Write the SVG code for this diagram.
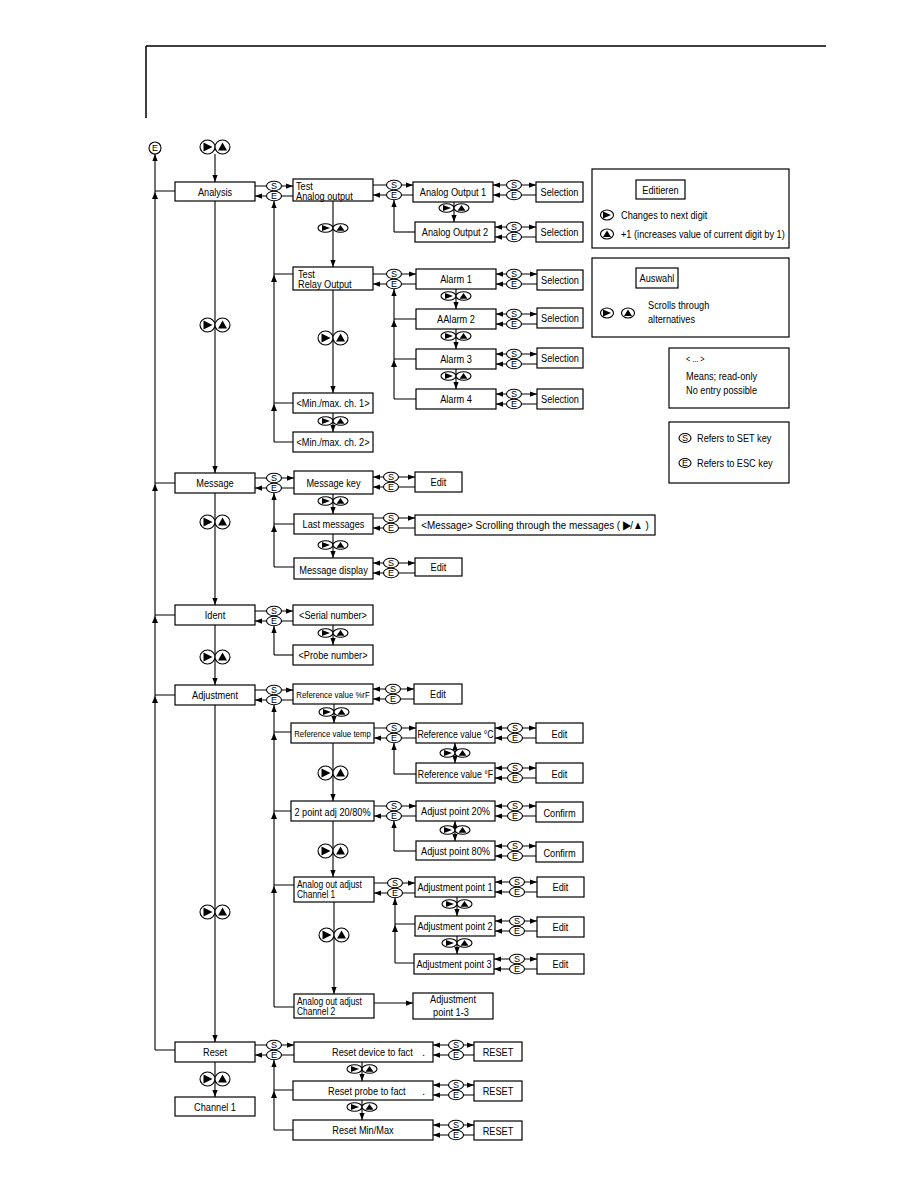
<svg xmlns="http://www.w3.org/2000/svg" xmlns:xlink="http://www.w3.org/1999/xlink" width="918" height="1188" viewBox="0 0 918 1188">
<style>
.bx{fill:#fff;stroke:#000;stroke-width:1.2}
.t{font-family:"Liberation Sans",Arial,sans-serif;font-size:11.5px;fill:#000}
.s{font-size:9.8px}
.m{font-size:10.5px}
.c{text-anchor:middle}
.k{fill:#fff;stroke:#000;stroke-width:1.1}
.kt{font-family:"Liberation Sans",Arial,sans-serif;font-size:9px;text-anchor:middle;fill:#000}
#conn path{fill:none;stroke:#000;stroke-width:1.1}
#conn .a{marker-end:url(#ah)}
#conn .b{marker-start:url(#ah);marker-end:url(#ah)}
</style>
<defs>
<marker id="ah" viewBox="0 0 8 6" refX="8" refY="3" markerWidth="7" markerHeight="5.5" markerUnits="userSpaceOnUse" orient="auto-start-reverse"><path d="M0,0L8,3L0,6z" fill="#000"/></marker>
<path id="up" d="M0,0l-3,7h6z" fill="#000"/>
<g id="kS"><ellipse rx="7.5" ry="4.8" class="k"/><text class="kt" y="3.2">S</text></g>
<g id="kE"><ellipse rx="7.5" ry="4.8" class="k"/><text class="kt" y="3.2">E</text></g>
<g id="pL"><ellipse cx="-7.5" rx="7.5" ry="7" class="k"/><ellipse cx="7.5" rx="7.5" ry="7" class="k"/><path d="M-11.5,-4.5L-2.5,0L-11.5,4.5z"/><path d="M7.5,-4.5L12,3.5H3z"/></g>
<g id="pS"><ellipse cx="-7.5" rx="7.5" ry="4.3" class="k"/><ellipse cx="7.5" rx="7.5" ry="4.3" class="k"/><path d="M-11,-3L-3,0L-11,3z"/><path d="M7.5,-3L11.5,2.8H3.5z"/></g>
</defs>
<rect width="918" height="1188" fill="#fff"/>
<g id="header"><path d="M146,46H826M146,46V118" fill="none" stroke="#000" stroke-width="1.5"/></g>

<g id="conn">
<path class="a" d="M155,1050V154"/>
<path d="M155,191H175M155,483H175M155,615H175M155,695H175M155,1050H175"/>
<path class="a" d="M215,154V182"/>
<path class="a" d="M215,201V473"/>
<path class="a" d="M215,493V605"/>
<path class="a" d="M215,625V685"/>
<path class="a" d="M215,705V1042"/>
<path class="a" d="M215,1062V1097"/>
<path class="a" d="M255,186H266.5M281.5,186H293"/>
<path class="a" d="M293,196H281.5M266.5,196H255"/>
<path class="a" d="M274,442V201"/>
<path d="M274,274H293M274,403H293M274,442H293"/>
<path class="a" d="M373,185H386.5M401.5,185H413"/>
<path class="a" d="M413,195H401.5M386.5,195H373"/>
<path class="a" d="M394,232V200"/>
<path d="M394,232H415"/>
<path class="b" d="M493,185H506.5M521.5,185H536"/>
<path class="a" d="M536,195H521.5M506.5,195H493"/>
<path class="b" d="M495,227H506.5M521.5,227H536"/>
<path class="a" d="M536,237H521.5M506.5,237H495"/>
<path class="a" d="M373,274H386.5M401.5,274H416"/>
<path class="a" d="M416,284H401.5M386.5,284H373"/>
<path class="a" d="M394,399V289"/>
<path d="M394,319H416M394,359H416M394,399H416"/>
<path class="b" d="M496,274H506.5M521.5,274H537"/>
<path class="a" d="M537,284H521.5M506.5,284H496"/>
<path class="b" d="M496,314H506.5M521.5,314H537"/>
<path class="a" d="M537,324H521.5M506.5,324H496"/>
<path class="b" d="M496,354H506.5M521.5,354H537"/>
<path class="a" d="M537,364H521.5M506.5,364H496"/>
<path class="b" d="M496,394H506.5M521.5,394H537"/>
<path class="a" d="M537,404H521.5M506.5,404H496"/>
<path class="a" d="M255,478H266.5M281.5,478H294"/>
<path class="a" d="M294,488H281.5M266.5,488H255"/>
<path class="a" d="M274,567V493"/>
<path d="M274,524H294M274,567H294"/>
<path class="b" d="M373,477H383.5M398.5,477H415"/>
<path class="a" d="M415,487H398.5M383.5,487H373"/>
<path class="a" d="M373,518H383.5M398.5,518H415"/>
<path class="a" d="M415,528H398.5M383.5,528H373"/>
<path class="b" d="M373,563H383.5M398.5,563H415"/>
<path class="a" d="M415,573H398.5M383.5,573H373"/>
<path class="a" d="M255,611H266.5M281.5,611H293"/>
<path class="a" d="M293,621H281.5M266.5,621H255"/>
<path class="a" d="M274,655V626"/>
<path d="M274,655H293"/>
<path class="a" d="M255,690H266.5M281.5,690H293"/>
<path class="a" d="M293,700H281.5M266.5,700H255"/>
<path class="a" d="M274,1007V705"/>
<path d="M274,732H291M274,811H291M274,885H294M274,1007H294"/>
<path class="b" d="M373,689H385.5M400.5,689H414"/>
<path class="a" d="M414,699H400.5M385.5,699H373"/>
<path class="a" d="M374,728H386.5M401.5,728H416"/>
<path class="a" d="M416,738H401.5M386.5,738H374"/>
<path class="a" d="M394,774V743"/>
<path d="M394,774H416"/>
<path class="b" d="M495,728H507.5M522.5,728H536"/>
<path class="a" d="M536,738H522.5M507.5,738H495"/>
<path class="b" d="M495,768H507.5M522.5,768H536"/>
<path class="a" d="M536,778H522.5M507.5,778H495"/>
<path class="a" d="M374,806H386.5M401.5,806H416"/>
<path class="a" d="M416,816H401.5M386.5,816H374"/>
<path class="a" d="M394,851V821"/>
<path d="M394,851H416"/>
<path class="b" d="M495,806H507.5M522.5,806H536"/>
<path class="a" d="M536,816H522.5M507.5,816H495"/>
<path class="b" d="M495,846H507.5M522.5,846H536"/>
<path class="a" d="M536,856H522.5M507.5,856H495"/>
<path class="a" d="M374,883H387.5M402.5,883H415"/>
<path class="a" d="M415,893H402.5M387.5,893H374"/>
<path class="a" d="M395,963V898"/>
<path d="M395,924H415M395,963H414"/>
<path class="b" d="M495,882H509.5M524.5,882H537"/>
<path class="a" d="M537,892H524.5M509.5,892H495"/>
<path class="b" d="M495,921H509.5M524.5,921H537"/>
<path class="a" d="M537,931H524.5M509.5,931H495"/>
<path class="b" d="M494,959H509.5M524.5,959H537"/>
<path class="a" d="M537,969H524.5M509.5,969H494"/>
<path class="a" d="M374,1003H413"/>
<path class="a" d="M255,1045H266.5M281.5,1045H294"/>
<path class="a" d="M294,1055H281.5M266.5,1055H255"/>
<path class="a" d="M274,1130V1060"/>
<path d="M274,1090H293M274,1130H293"/>
<path class="b" d="M433,1045H448.5M463.5,1045H474"/>
<path class="a" d="M474,1055H463.5M448.5,1055H433"/>
<path class="b" d="M433,1085H448.5M463.5,1085H474"/>
<path class="a" d="M474,1095H463.5M448.5,1095H433"/>
<path class="b" d="M433,1125H448.5M463.5,1125H474"/>
<path class="a" d="M474,1135H463.5M448.5,1135H433"/>
<path class="a" d="M333,201V267"/>
<path class="a" d="M333,290V393"/>
<path class="a" d="M333,413V432"/>
<path class="a" d="M454,202V222"/>
<path class="a" d="M456,289V309"/>
<path class="a" d="M456,329V349"/>
<path class="a" d="M456,369V389"/>
<path class="a" d="M333,494V514"/>
<path class="a" d="M333,534V558"/>
<path class="a" d="M333,625V645"/>
<path class="a" d="M334,704V723"/>
<path class="b" d="M455,743V763"/>
<path class="a" d="M333,743V801"/>
<path class="b" d="M455,821V841"/>
<path class="a" d="M333,821V877"/>
<path class="a" d="M457,897V916"/>
<path class="a" d="M457,936V954"/>
<path class="a" d="M334,902V994"/>
<path class="a" d="M362,1062V1081"/>
<path class="a" d="M362,1100V1120"/>
</g>

<g id="junction-arrows">
<use href="#up" x="155" y="192"/><use href="#up" x="155" y="484"/><use href="#up" x="155" y="616"/><use href="#up" x="155" y="696"/>
<use href="#up" x="274" y="275"/><use href="#up" x="274" y="404"/>
<use href="#up" x="394" y="320"/><use href="#up" x="394" y="360"/>
<use href="#up" x="274" y="525"/>
<use href="#up" x="274" y="733"/><use href="#up" x="274" y="812"/><use href="#up" x="274" y="886"/>
<use href="#up" x="395" y="925"/>
<use href="#up" x="274" y="1091"/>
</g>

<g id="keys">
<circle cx="155" cy="148" r="6" class="k"/><text class="kt" x="155" y="151.2">E</text>
<use href="#pL" x="215" y="147"/>
<use href="#pL" x="215" y="325"/><use href="#pL" x="215" y="522"/><use href="#pL" x="215" y="657"/><use href="#pL" x="215" y="912"/><use href="#pL" x="215" y="1079"/>
<use href="#pL" x="333" y="338"/><use href="#pL" x="333" y="773"/><use href="#pL" x="333" y="851"/><use href="#pL" x="334" y="935"/>
<use href="#pS" x="333" y="228"/><use href="#pS" x="333" y="421"/><use href="#pS" x="454" y="208"/>
<use href="#pS" x="456" y="296"/><use href="#pS" x="456" y="336"/><use href="#pS" x="456" y="376"/>
<use href="#pS" x="333" y="501"/><use href="#pS" x="333" y="545"/><use href="#pS" x="333" y="633"/>
<use href="#pS" x="334" y="712"/><use href="#pS" x="455" y="753"/><use href="#pS" x="455" y="830"/>
<use href="#pS" x="457" y="904"/><use href="#pS" x="457" y="943"/>
<use href="#pS" x="362" y="1069"/><use href="#pS" x="362" y="1107"/>
<use href="#kS" x="274" y="186"/><use href="#kE" x="274" y="196"/>
<use href="#kS" x="394" y="185"/><use href="#kE" x="394" y="195"/>
<use href="#kS" x="514" y="185"/><use href="#kE" x="514" y="195"/>
<use href="#kS" x="514" y="227"/><use href="#kE" x="514" y="237"/>
<use href="#kS" x="394" y="274"/><use href="#kE" x="394" y="284"/>
<use href="#kS" x="514" y="274"/><use href="#kE" x="514" y="284"/>
<use href="#kS" x="514" y="314"/><use href="#kE" x="514" y="324"/>
<use href="#kS" x="514" y="354"/><use href="#kE" x="514" y="364"/>
<use href="#kS" x="514" y="394"/><use href="#kE" x="514" y="404"/>
<use href="#kS" x="274" y="478"/><use href="#kE" x="274" y="488"/>
<use href="#kS" x="391" y="477"/><use href="#kE" x="391" y="487"/>
<use href="#kS" x="391" y="518"/><use href="#kE" x="391" y="528"/>
<use href="#kS" x="391" y="563"/><use href="#kE" x="391" y="573"/>
<use href="#kS" x="274" y="611"/><use href="#kE" x="274" y="621"/>
<use href="#kS" x="274" y="690"/><use href="#kE" x="274" y="700"/>
<use href="#kS" x="393" y="689"/><use href="#kE" x="393" y="699"/>
<use href="#kS" x="394" y="728"/><use href="#kE" x="394" y="738"/>
<use href="#kS" x="515" y="728"/><use href="#kE" x="515" y="738"/>
<use href="#kS" x="515" y="768"/><use href="#kE" x="515" y="778"/>
<use href="#kS" x="394" y="806"/><use href="#kE" x="394" y="816"/>
<use href="#kS" x="515" y="806"/><use href="#kE" x="515" y="816"/>
<use href="#kS" x="515" y="846"/><use href="#kE" x="515" y="856"/>
<use href="#kS" x="395" y="883"/><use href="#kE" x="395" y="893"/>
<use href="#kS" x="517" y="882"/><use href="#kE" x="517" y="892"/>
<use href="#kS" x="517" y="921"/><use href="#kE" x="517" y="931"/>
<use href="#kS" x="517" y="959"/><use href="#kE" x="517" y="969"/>
<use href="#kS" x="274" y="1045"/><use href="#kE" x="274" y="1055"/>
<use href="#kS" x="456" y="1045"/><use href="#kE" x="456" y="1055"/>
<use href="#kS" x="456" y="1085"/><use href="#kE" x="456" y="1095"/>
<use href="#kS" x="456" y="1125"/><use href="#kE" x="456" y="1135"/>
</g>

<g id="n_analysis"><rect class="bx" x="175" y="182" width="80" height="19"/><text class="t c" transform="translate(215 195.5) scale(.8 1)">Analysis</text></g>
<g id="n_message"><rect class="bx" x="175" y="473" width="80" height="20"/><text class="t c" transform="translate(215 487) scale(.8 1)">Message</text></g>
<g id="n_ident"><rect class="bx" x="175" y="605" width="80" height="20"/><text class="t c" transform="translate(215 619) scale(.8 1)">Ident</text></g>
<g id="n_adjustment"><rect class="bx" x="175" y="685" width="80" height="20"/><text class="t c" transform="translate(215 699) scale(.8 1)">Adjustment</text></g>
<g id="n_reset"><rect class="bx" x="175" y="1042" width="80" height="20"/><text class="t c" transform="translate(215 1056) scale(.8 1)">Reset</text></g>
<g id="n_channel1"><rect class="bx" x="175" y="1097" width="80" height="19"/><text class="t c" transform="translate(215 1111) scale(.8 1)">Channel 1</text></g>

<g id="n_testao"><rect class="bx" x="293" y="179" width="80" height="22"/><text class="t" transform="translate(296 189.5) scale(.8 1)">Test</text><text class="t" transform="translate(296 199.5) scale(.8 1)">Analog output</text></g>
<g id="n_testrelay"><rect class="bx" x="293" y="267" width="80" height="23"/><text class="t" transform="translate(298 278) scale(.8 1)">Test</text><text class="t" transform="translate(298 288) scale(.8 1)">Relay Output</text></g>
<g id="n_minmax1"><rect class="bx" x="293" y="393" width="80" height="20"/><text class="t c" transform="translate(333 407) scale(.8 1)">&lt;Min./max. ch. 1&gt;</text></g>
<g id="n_minmax2"><rect class="bx" x="293" y="432" width="80" height="20"/><text class="t c" transform="translate(333 446) scale(.8 1)">&lt;Min./max. ch. 2&gt;</text></g>
<g id="n_ao1"><rect class="bx" x="413" y="182" width="80" height="20"/><text class="t c" transform="translate(453 196) scale(.8 1)">Analog Output 1</text></g>
<g id="n_ao2"><rect class="bx" x="415" y="222" width="80" height="20"/><text class="t c" transform="translate(455 236) scale(.8 1)">Analog Output 2</text></g>
<g id="n_sel1"><rect class="bx" x="536" y="182" width="47" height="20"/><text class="t c" transform="translate(559.5 196) scale(.8 1)">Selection</text></g>
<g id="n_sel2"><rect class="bx" x="536" y="222" width="47" height="20"/><text class="t c" transform="translate(559.5 236) scale(.8 1)">Selection</text></g>
<g id="n_alarm1"><rect class="bx" x="416" y="269" width="80" height="20"/><text class="t c" transform="translate(456 283) scale(.8 1)">Alarm 1</text></g>
<g id="n_alarm2"><rect class="bx" x="416" y="309" width="80" height="20"/><text class="t c" transform="translate(456 323) scale(.8 1)">AAlarm 2</text></g>
<g id="n_alarm3"><rect class="bx" x="416" y="349" width="80" height="20"/><text class="t c" transform="translate(456 363) scale(.8 1)">Alarm 3</text></g>
<g id="n_alarm4"><rect class="bx" x="416" y="389" width="80" height="20"/><text class="t c" transform="translate(456 403) scale(.8 1)">Alarm 4</text></g>
<g id="n_sel3"><rect class="bx" x="537" y="270" width="46" height="20"/><text class="t c" transform="translate(560 284) scale(.8 1)">Selection</text></g>
<g id="n_sel4"><rect class="bx" x="537" y="308" width="46" height="20"/><text class="t c" transform="translate(560 322) scale(.8 1)">Selection</text></g>
<g id="n_sel5"><rect class="bx" x="537" y="348" width="46" height="20"/><text class="t c" transform="translate(560 362) scale(.8 1)">Selection</text></g>
<g id="n_sel6"><rect class="bx" x="537" y="389" width="46" height="20"/><text class="t c" transform="translate(560 403) scale(.8 1)">Selection</text></g>

<g id="n_msgkey"><rect class="bx" x="294" y="471" width="79" height="23"/><text class="t c" transform="translate(333.5 486.5) scale(.8 1)">Message key</text></g>
<g id="n_lastmsg"><rect class="bx" x="294" y="514" width="79" height="20"/><text class="t c" transform="translate(333.5 528) scale(.8 1)">Last messages</text></g>
<g id="n_msgdisp"><rect class="bx" x="294" y="558" width="79" height="21"/><text class="t c" transform="translate(333.5 574) scale(.8 1)">Message display</text></g>
<g id="n_edit1"><rect class="bx" x="415" y="472" width="47" height="20"/><text class="t c" transform="translate(438.5 486) scale(.8 1)">Edit</text></g>
<g id="n_scroll"><rect class="bx" x="415" y="515" width="240" height="20"/><text class="t c" transform="translate(535 529) scale(.86 1)">&lt;Message&gt; Scrolling through the messages ( ▶/▲ )</text></g>
<g id="n_edit2"><rect class="bx" x="415" y="558" width="47" height="18"/><text class="t c" transform="translate(438.5 571) scale(.8 1)">Edit</text></g>

<g id="n_serial"><rect class="bx" x="293" y="605" width="80" height="20"/><text class="t c" transform="translate(333 619) scale(.8 1)">&lt;Serial number&gt;</text></g>
<g id="n_probe"><rect class="bx" x="293" y="645" width="80" height="20"/><text class="t c" transform="translate(333 659) scale(.8 1)">&lt;Probe number&gt;</text></g>

<g id="n_refrf"><rect class="bx" x="293" y="684" width="80" height="20"/><text class="t s c" transform="translate(333 698) scale(.8 1)">Reference value %rF</text></g>
<g id="n_edit3"><rect class="bx" x="414" y="684" width="48" height="20"/><text class="t c" transform="translate(438 698) scale(.8 1)">Edit</text></g>
<g id="n_reftemp"><rect class="bx" x="291" y="723" width="83" height="20"/><text class="t s c" transform="translate(332.5 737) scale(.8 1)">Reference value temp</text></g>
<g id="n_refc"><rect class="bx" x="416" y="723" width="79" height="20"/><text class="t c" transform="translate(455.5 737.5) scale(.765 1)">Reference value °C</text></g>
<g id="n_edit4"><rect class="bx" x="536" y="723" width="47" height="20"/><text class="t c" transform="translate(559.5 737.5) scale(.8 1)">Edit</text></g>
<g id="n_reff"><rect class="bx" x="416" y="763" width="79" height="20"/><text class="t c" transform="translate(455.5 777.5) scale(.765 1)">Reference value °F</text></g>
<g id="n_edit5"><rect class="bx" x="536" y="763" width="47" height="20"/><text class="t c" transform="translate(559.5 777.5) scale(.8 1)">Edit</text></g>
<g id="n_2pt"><rect class="bx" x="291" y="801" width="83" height="20"/><text class="t c" transform="translate(332.5 815.5) scale(.8 1)">2 point adj 20/80%</text></g>
<g id="n_ap20"><rect class="bx" x="416" y="801" width="79" height="20"/><text class="t c" transform="translate(455.5 814.5) scale(.8 1)">Adjust point 20%</text></g>
<g id="n_confirm1"><rect class="bx" x="536" y="802" width="47" height="20"/><text class="t c" transform="translate(559.5 816.5) scale(.8 1)">Confirm</text></g>
<g id="n_ap80"><rect class="bx" x="416" y="841" width="79" height="19"/><text class="t c" transform="translate(455.5 854.5) scale(.8 1)">Adjust point 80%</text></g>
<g id="n_confirm2"><rect class="bx" x="536" y="842" width="47" height="20"/><text class="t c" transform="translate(559.5 856.5) scale(.8 1)">Confirm</text></g>
<g id="n_ch1"><rect class="bx" x="294" y="877" width="80" height="25"/><text class="t m" transform="translate(297 887.5) scale(.8 1)">Analog out adjust</text><text class="t m" transform="translate(297 898) scale(.8 1)">Channel 1</text></g>
<g id="n_adjp1"><rect class="bx" x="415" y="877" width="80" height="20"/><text class="t c" transform="translate(455 891) scale(.79 1)">Adjustment point 1</text></g>
<g id="n_edit6"><rect class="bx" x="537" y="877" width="47" height="20"/><text class="t c" transform="translate(560.5 891) scale(.8 1)">Edit</text></g>
<g id="n_adjp2"><rect class="bx" x="415" y="916" width="80" height="20"/><text class="t c" transform="translate(455 930) scale(.79 1)">Adjustment point 2</text></g>
<g id="n_edit7"><rect class="bx" x="537" y="917" width="47" height="20"/><text class="t c" transform="translate(560.5 931) scale(.8 1)">Edit</text></g>
<g id="n_adjp3"><rect class="bx" x="414" y="954" width="80" height="20"/><text class="t c" transform="translate(454 968) scale(.79 1)">Adjustment point 3</text></g>
<g id="n_edit8"><rect class="bx" x="537" y="954" width="47" height="20"/><text class="t c" transform="translate(560.5 968) scale(.8 1)">Edit</text></g>
<g id="n_ch2"><rect class="bx" x="294" y="994" width="80" height="24"/><text class="t m" transform="translate(297 1005) scale(.8 1)">Analog out adjust</text><text class="t m" transform="translate(297 1015) scale(.8 1)">Channel 2</text></g>
<g id="n_adjp13"><rect class="bx" x="413" y="993" width="80" height="26"/><text class="t c" transform="translate(453 1003) scale(.8 1)">Adjustment</text><text class="t c" transform="translate(451 1016) scale(.8 1)">point 1-3</text></g>

<g id="n_resetdev"><rect class="bx" x="294" y="1042" width="139" height="20"/><text class="t" transform="translate(332 1055.5) scale(.8 1)">Reset device to fact</text><text class="t" x="422" y="1055.5">.</text></g>
<g id="n_reset1"><rect class="bx" x="474" y="1042" width="48" height="19"/><text class="t c" transform="translate(498 1055.5) scale(.8 1)">RESET</text></g>
<g id="n_resetprobe"><rect class="bx" x="293" y="1081" width="140" height="19"/><text class="t" transform="translate(328 1094.5) scale(.8 1)">Reset probe to fact</text><text class="t" x="422" y="1094.5">.</text></g>
<g id="n_reset2"><rect class="bx" x="474" y="1081" width="48" height="20"/><text class="t c" transform="translate(498 1095) scale(.8 1)">RESET</text></g>
<g id="n_resetmm"><rect class="bx" x="293" y="1120" width="140" height="20"/><text class="t c" transform="translate(363 1134) scale(.8 1)">Reset Min/Max</text></g>
<g id="n_reset3"><rect class="bx" x="474" y="1121" width="48" height="19"/><text class="t c" transform="translate(498 1134.5) scale(.8 1)">RESET</text></g>

<g id="legend_edit">
<rect class="bx" x="592" y="169" width="197" height="79"/>
<rect class="bx" x="636" y="180" width="49" height="19"/>
<text class="t c" transform="translate(660.5 194) scale(.8 1)">Editieren</text>
<ellipse cx="607" cy="215" rx="6.5" ry="5" class="k"/><path d="M603,211.5L611,215L603,218.5z"/>
<text class="t" transform="translate(621 219) scale(.8 1)">Changes to next digit</text>
<ellipse cx="607" cy="234" rx="6.5" ry="5" class="k"/><path d="M607,230.5L611,237H603z"/>
<text class="t" transform="translate(621 238) scale(.8 1)">+1 (increases value of current digit by 1)</text>
</g>
<g id="legend_select">
<rect class="bx" x="592" y="258" width="197" height="79"/>
<rect class="bx" x="636" y="268" width="42" height="20"/>
<text class="t c" transform="translate(657 282) scale(.8 1)">Auswahl</text>
<ellipse cx="607" cy="313" rx="6.5" ry="5" class="k"/><path d="M603,309.5L611,313L603,316.5z"/>
<ellipse cx="628" cy="313" rx="6.5" ry="5" class="k"/><path d="M628,309.5L632,316H624z"/>
<text class="t" transform="translate(648 309) scale(.8 1)">Scrolls through</text>
<text class="t" transform="translate(648 323) scale(.8 1)">alternatives</text>
</g>
<g id="legend_readonly">
<rect class="bx" x="669" y="348" width="120" height="60"/>
<text class="t" style="font-size:9px" transform="translate(686 362) scale(.8 1)">&lt; ... &gt;</text>
<text class="t" transform="translate(686 380) scale(.8 1)">Means; read-only</text>
<text class="t" transform="translate(686 394) scale(.8 1)">No entry possible</text>
</g>
<g id="legend_keys">
<rect class="bx" x="669" y="422" width="120" height="61"/>
<ellipse cx="685" cy="438" rx="6" ry="4.5" class="k"/><text class="kt" x="685" y="441">S</text>
<text class="t" transform="translate(697 442) scale(.8 1)">Refers to SET key</text>
<ellipse cx="685" cy="463" rx="6" ry="4.5" class="k"/><text class="kt" x="685" y="466">E</text>
<text class="t" transform="translate(697 467) scale(.8 1)">Refers to ESC key</text>
</g>
</svg>
